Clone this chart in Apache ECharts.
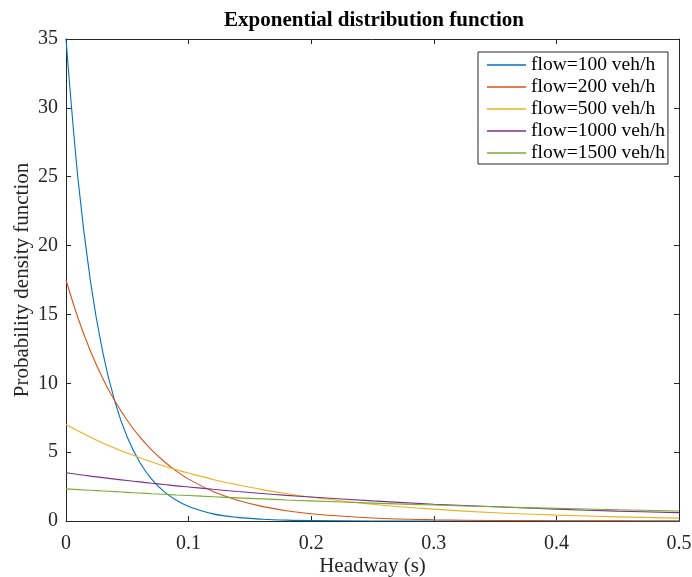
<!DOCTYPE html>
<html>
<head>
<meta charset="utf-8">
<script src="https://cdn.jsdelivr.net/npm/echarts@6/dist/echarts.min.js"></script>
<style>
  html, body { margin: 0; padding: 0; background: #fff; }
  #chart { width: 692px; height: 577px; }
</style>
</head>
<body>
<div id="chart"></div>
<script>
// headway samples (s)
var headway = [0, 0.01, 0.02, 0.03, 0.04, 0.05, 0.06, 0.07, 0.08, 0.09, 0.10,
  0.12, 0.14, 0.16, 0.18, 0.20, 0.25, 0.30, 0.35, 0.40, 0.45, 0.50];

var flow100 = [35, 24.66, 17.38, 12.25, 8.63, 6.08, 4.29, 3.02, 2.13, 1.50, 1.06,
  0.52, 0.26, 0.13, 0.06, 0.03, 0.005, 0.001, 0, 0, 0, 0];
var flow200 = [17.5, 14.69, 12.33, 10.35, 8.69, 7.30, 6.12, 5.14, 4.32, 3.62, 3.04,
  2.14, 1.51, 1.06, 0.75, 0.53, 0.22, 0.09, 0.04, 0.016, 0.007, 0.003];
var flow500 = [7, 6.53, 6.09, 5.67, 5.29, 4.93, 4.60, 4.29, 4.00, 3.73, 3.48,
  3.02, 2.63, 2.28, 1.99, 1.73, 1.22, 0.86, 0.60, 0.43, 0.30, 0.21];
var flow1000 = [3.5, 3.38, 3.26, 3.15, 3.04, 2.94, 2.84, 2.74, 2.65, 2.55, 2.47,
  2.30, 2.14, 2.00, 1.86, 1.74, 1.46, 1.22, 1.03, 0.86, 0.72, 0.61];
var flow1500 = [2.33, 2.28, 2.23, 2.18, 2.13, 2.08, 2.03, 1.98, 1.94, 1.89, 1.85,
  1.76, 1.68, 1.61, 1.53, 1.46, 1.30, 1.16, 1.03, 0.92, 0.82, 0.73];

var seriesNames = ['flow=100 veh/h', 'flow=200 veh/h', 'flow=500 veh/h', 'flow=1000 veh/h', 'flow=1500 veh/h'];
var seriesValues = [flow100, flow200, flow500, flow1000, flow1500];
var colors = ['#0072BD', '#D95319', '#EDB120', '#7E2F8E', '#77AC30'];

var font = 'Liberation Serif';
var axisColor = '#262626';

function pairs(vals) {
  var out = [];
  for (var i = 0; i < headway.length; i++) {
    out.push([headway[i], vals[i]]);
  }
  return out;
}

var series = [];
for (var k = 0; k < seriesNames.length; k++) {
  series.push({
    name: seriesNames[k],
    type: 'line',
    data: pairs(seriesValues[k]),
    symbol: 'none',
    smooth: 0.35,
    lineStyle: { width: 1.1, color: colors[k] },
    itemStyle: { color: colors[k] },
    xAxisIndex: 0,
    yAxisIndex: 0
  });
}

// top / right axes only close the box
var boxAxisX = {
  type: 'value', min: 0, max: 0.5, interval: 0.1, position: 'top',
  axisLine: { show: true, onZero: false, lineStyle: { color: axisColor, width: 1 } },
  axisTick: { show: true, inside: true, length: 5, lineStyle: { color: axisColor } },
  axisLabel: { show: false },
  splitLine: { show: false }
};
var boxAxisY = {
  type: 'value', min: 0, max: 35, interval: 5, position: 'right',
  axisLine: { show: true, onZero: false, lineStyle: { color: axisColor, width: 1 } },
  axisTick: { show: true, inside: true, length: 5, lineStyle: { color: axisColor } },
  axisLabel: { show: false },
  splitLine: { show: false }
};

var option = {
  animation: false,
  backgroundColor: '#fff',
  color: colors,
  title: {
    text: 'Exponential distribution function',
    left: 369,
    top: 5,
    textAlign: 'center',
    textStyle: { fontFamily: font, fontWeight: 'bold', fontSize: 21, color: '#000' }
  },
  legend: {
    orient: 'vertical',
    left: 478,
    top: 52,
    padding: [3, 3, 1, 9],
    icon: 'rect',
    itemWidth: 39,
    itemHeight: 1.3,
    itemGap: 2,
    backgroundColor: '#fff',
    borderColor: axisColor,
    borderWidth: 1,
    borderRadius: 0,
    data: seriesNames,
    textStyle: { fontFamily: font, fontSize: 19.5, lineHeight: 20, color: '#000' }
  },
  grid: { left: 66, right: 13, top: 39, bottom: 56, containLabel: false, outerBoundsMode: 'none' },
  xAxis: [{
    type: 'value', min: 0, max: 0.5, interval: 0.1,
    name: 'Headway (s)', nameLocation: 'middle', nameGap: 35, nameMoveOverlap: false,
    nameTextStyle: { fontFamily: font, fontSize: 21, color: '#262626' },
    axisLine: { show: true, onZero: false, lineStyle: { color: axisColor, width: 1 } },
    axisTick: { show: true, inside: true, length: 5, lineStyle: { color: axisColor } },
    axisLabel: { fontFamily: font, fontSize: 20, color: '#262626', margin: 13 },
    splitLine: { show: false }
  }, boxAxisX],
  yAxis: [{
    type: 'value', min: 0, max: 35, interval: 5,
    name: 'Probability density function', nameLocation: 'middle', nameGap: 33, nameMoveOverlap: false,
    nameTextStyle: { fontFamily: font, fontSize: 21, color: '#262626' },
    axisLine: { show: true, onZero: false, lineStyle: { color: axisColor, width: 1 } },
    axisTick: { show: true, inside: true, length: 5, lineStyle: { color: axisColor } },
    axisLabel: { fontFamily: font, fontSize: 20, color: '#262626', margin: 8 },
    splitLine: { show: false }
  }, boxAxisY],
  series: series
};

var myChart = echarts.init(document.getElementById('chart'));
myChart.setOption(option);
window.onresize = myChart.resize;
</script>
</body>
</html>
